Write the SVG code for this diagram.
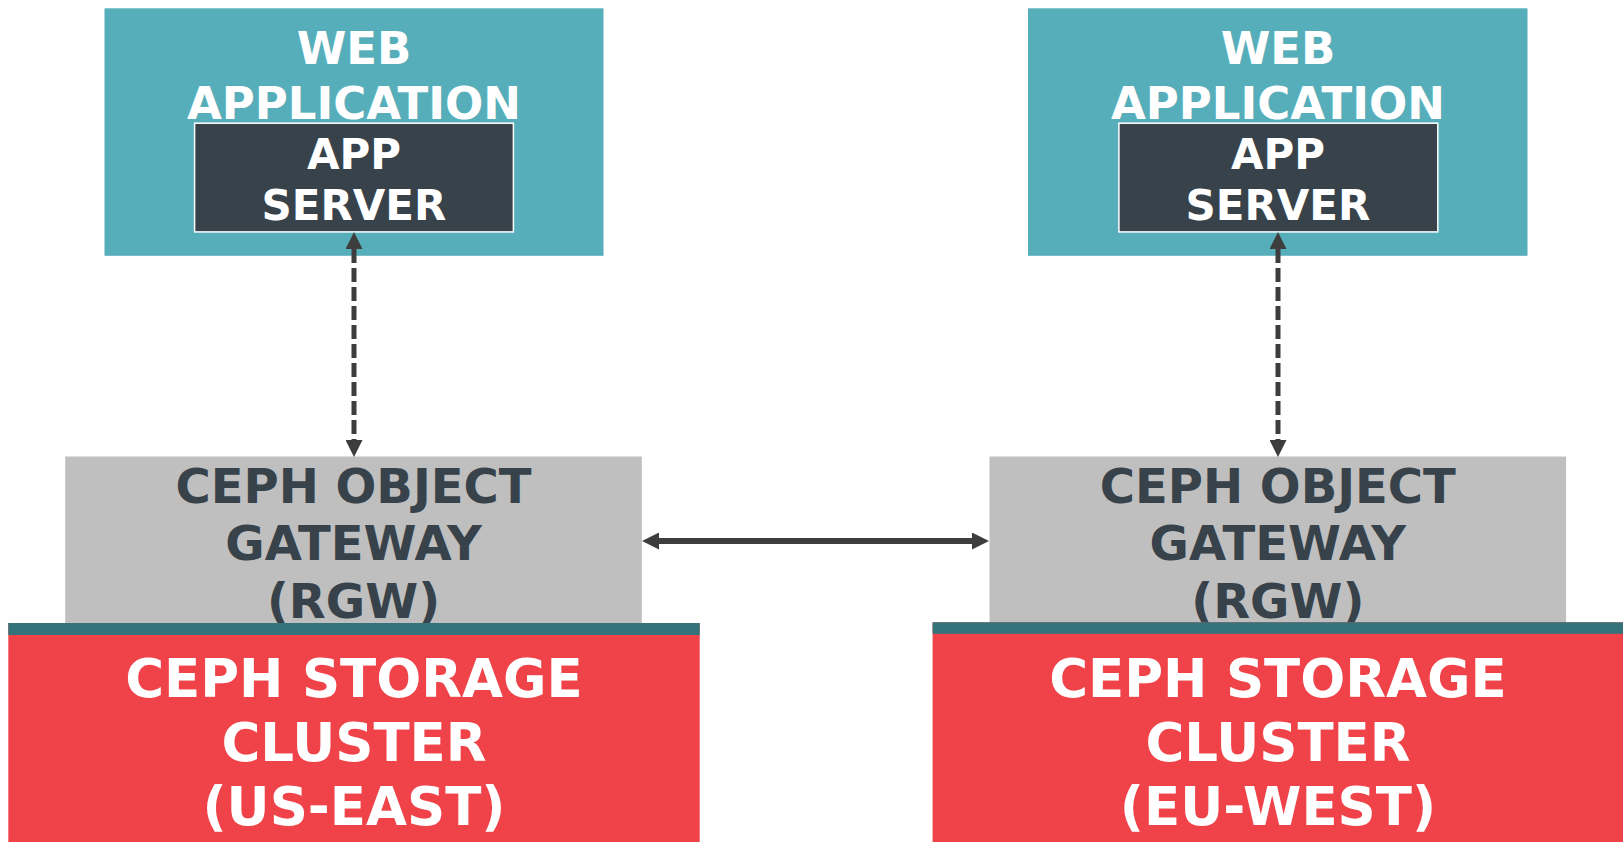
<svg xmlns="http://www.w3.org/2000/svg" width="1623" height="842" viewBox="0 0 1623 842">
<defs>
<style>
.t{font-family:"DejaVu Sans","Liberation Sans",sans-serif;font-weight:bold;text-anchor:middle}
.web{fill:#57AEBB}
.srv{fill:#37424A;stroke:#FFFFFF;stroke-width:1.5}
.gw{fill:#BFBFBF}
.st{fill:#F04249}
.bar{fill:#35737A}
.wt{fill:#FFFFFF}
.dt{fill:#37424A}
.dash{stroke:#3D3D3D;stroke-width:5;fill:none;stroke-dasharray:14 5}
.solid{stroke:#3D3D3D;stroke-width:6;fill:none}
</style>
<marker id="ah" markerUnits="userSpaceOnUse" markerWidth="17" markerHeight="17" refX="0" refY="8.5" orient="auto-start-reverse" viewBox="0 0 17 17">
<path d="M0,0 L17,8.5 L0,17 z" fill="#3D3D3D"/>
</marker>
</defs>
<rect width="1623" height="842" fill="#FFFFFF"/>
<g id="web-app-left">
<rect class="web" x="104.5" y="8.3" width="499" height="247.5"/>
<text class="t wt" font-size="45" x="354" y="64">WEB</text>
<text class="t wt" font-size="45" x="354" y="119">APPLICATION</text>
</g>
<g id="app-server-left">
<rect class="srv" x="194.6" y="123.2" width="318.8" height="108.7"/>
<text class="t wt" font-size="42" x="354" y="169">APP</text>
<text class="t wt" font-size="42" x="354" y="220">SERVER</text>
</g>
<g id="web-app-right">
<rect class="web" x="1028" y="8.3" width="499.5" height="247.5"/>
<text class="t wt" font-size="45" x="1278" y="64">WEB</text>
<text class="t wt" font-size="45" x="1278" y="119">APPLICATION</text>
</g>
<g id="app-server-right">
<rect class="srv" x="1118.9" y="123.2" width="318.9" height="108.7"/>
<text class="t wt" font-size="42" x="1278" y="169">APP</text>
<text class="t wt" font-size="42" x="1278" y="220">SERVER</text>
</g>
<g id="gateway-left">
<rect class="gw" x="65.2" y="456.5" width="576.6" height="170"/>
<text class="t dt" font-size="48" x="353.5" y="503">CEPH OBJECT</text>
<text class="t dt" font-size="48" x="353.5" y="560">GATEWAY</text>
<text class="t dt" font-size="48" x="353.5" y="618">(RGW)</text>
</g>
<g id="gateway-right">
<rect class="gw" x="989.5" y="456.5" width="576.6" height="170"/>
<text class="t dt" font-size="48" x="1277.8" y="503">CEPH OBJECT</text>
<text class="t dt" font-size="48" x="1277.8" y="560">GATEWAY</text>
<text class="t dt" font-size="48" x="1277.8" y="618">(RGW)</text>
</g>
<g id="storage-left">
<rect class="st" x="8.3" y="623" width="691.4" height="219"/>
<rect class="bar" x="8.3" y="623" width="691.4" height="12"/>
<text class="t wt" font-size="53" x="354" y="697">CEPH STORAGE</text>
<text class="t wt" font-size="53" x="354" y="761">CLUSTER</text>
<text class="t wt" font-size="53" x="354" y="825">(US-EAST)</text>
</g>
<g id="storage-right">
<rect class="st" x="932.6" y="622.3" width="691.4" height="220"/>
<rect class="bar" x="932.6" y="622.3" width="691.4" height="11.5"/>
<text class="t wt" font-size="53" x="1278" y="697">CEPH STORAGE</text>
<text class="t wt" font-size="53" x="1278" y="761">CLUSTER</text>
<text class="t wt" font-size="53" x="1278" y="825">(EU-WEST)</text>
</g>
<g id="connectors">
<line class="dash" x1="354" y1="249" x2="354" y2="440" marker-start="url(#ah)" marker-end="url(#ah)"/>
<line class="dash" x1="1278" y1="249" x2="1278" y2="440" marker-start="url(#ah)" marker-end="url(#ah)"/>
<line class="solid" x1="659" y1="541" x2="972" y2="541" marker-start="url(#ah)" marker-end="url(#ah)"/>
</g>
</svg>
